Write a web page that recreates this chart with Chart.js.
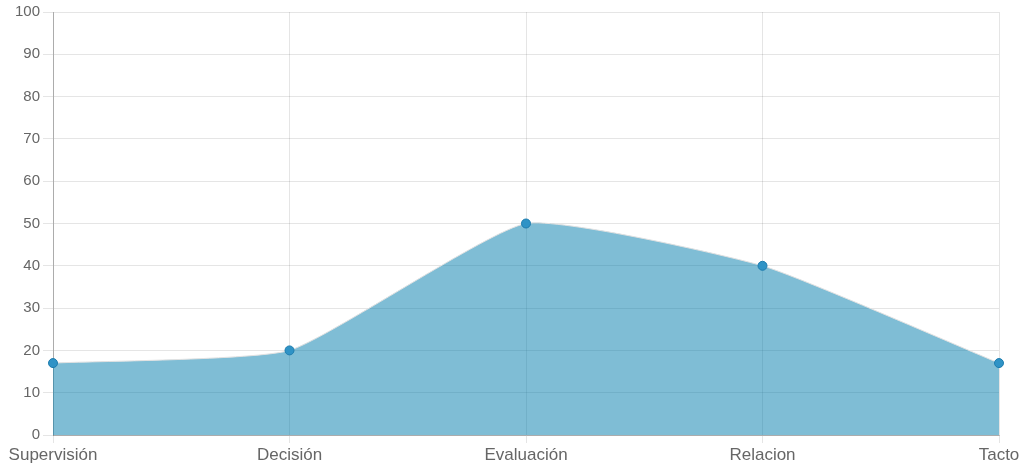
<!DOCTYPE html>
<html>
<head>
<meta charset="utf-8">
<script src="https://cdn.jsdelivr.net/npm/chart.js@4/dist/chart.umd.min.js"></script>
<style>
  html, body { margin: 0; padding: 0; background: #fff; }
  #wrap { width: 1029px; height: 467px; position: relative; }
</style>
</head>
<body>
<div id="wrap"><canvas id="areaChart"></canvas></div>
<script>
const categories = ['Supervisión', 'Decisión', 'Evaluación', 'Relacion', 'Tacto'];
const scores = [17, 20, 50, 40, 17];

const areaChart = document.getElementById('areaChart');
new Chart(areaChart, {
  type: 'line',
  data: {
    labels: categories,
    datasets: [
    {
      data: scores,
      fill: true,
      tension: 0.15,
      backgroundColor: 'rgba(0,123,171,0.5)',
      borderColor: 'rgba(225,225,225,1)',
      borderWidth: 1,
      pointRadius: 4.5,
      pointBackgroundColor: '#2f93c6',
      pointBorderColor: '#1d7cae',
      pointBorderWidth: 1
    }]
  },
  options: {
    responsive: true,
    maintainAspectRatio: false,
    animation: false,
    layout: { padding: { top: 11, right: 30, bottom: 0, left: 0 } },
    plugins:{
      legend: false,
      tooltip: {
        enabled:false
      }
    },
    scales: {
      x: {
        afterFit: (scale) => { scale.height = 32; },
        grid: { color: 'rgba(0,0,0,0.1)', tickLength: 8 },
        border: { color: 'rgba(0,0,0,0.25)' },
        ticks: { color: '#666', font: { family: 'Liberation Sans', size: 17 }, maxRotation: 0, padding: 2 }
      },
      y: {
        min: 0,
        max: 100,
        afterFit: (scale) => { scale.width = 53; },
        grid: { color: 'rgba(0,0,0,0.1)', tickLength: 10 },
        border: { color: 'rgba(0,0,0,0.25)' },
        ticks: { stepSize: 10, color: '#666', font: { family: 'Liberation Sans', size: 15 } }
      }
    }
  }
});
</script>
</body>
</html>
